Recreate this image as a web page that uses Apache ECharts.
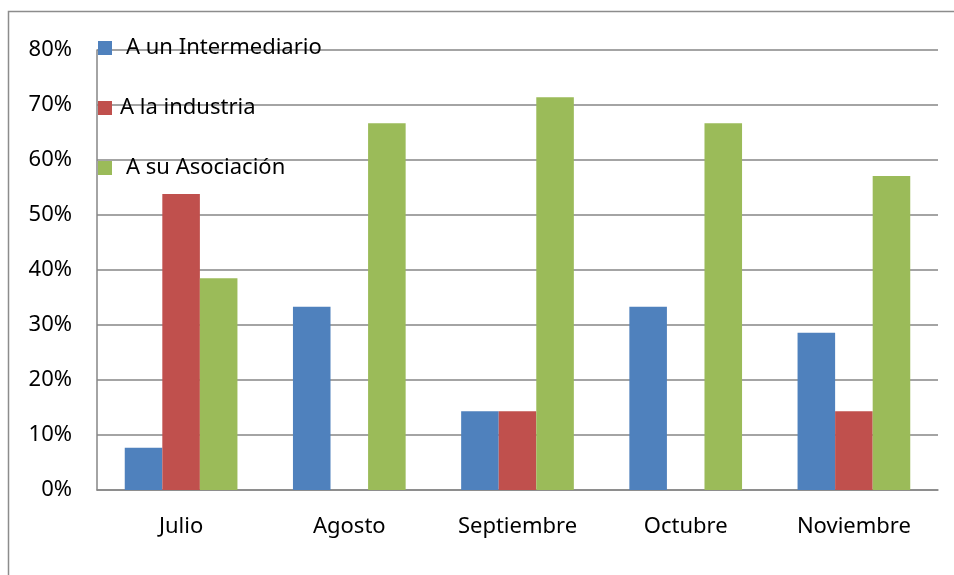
<!DOCTYPE html>
<html>
<head>
<meta charset="utf-8">
<script src="https://cdn.jsdelivr.net/npm/echarts@6/dist/echarts.min.js"></script>
<style>
  html, body { margin: 0; padding: 0; background: #fff; }
  #chart { width: 954px; height: 575px; }
</style>
</head>
<body>
<div id="chart"></div>
<script>
// meses
const months = ['Julio', 'Agosto', 'Septiembre', 'Octubre', 'Noviembre']
// porcentajes por destino
const intermediario = [7.7, 33.3, 14.3, 33.3, 28.6]
const industria = [53.8, 0, 14.3, 0, 14.3]
const asociacion = [38.5, 66.7, 71.4, 66.7, 57.1]
const seriesNames = ['A un Intermediario', 'A la industria', 'A su Asociación']

const chart = echarts.init(document.getElementById('chart'))
const font = 'Noto Sans'

const option = {
  animation: false,
  graphic: [
    {
      type: 'rect',
      shape: { x: 8.5, y: 11.5, width: 1000, height: 1000 },
      style: { fill: 'none', stroke: '#8c8c8c', lineWidth: 1.5 },
      silent: true
    }
  ],
  legend: {
    orient: 'vertical',
    left: 93,
    top: 32,
    itemWidth: 14,
    itemHeight: 14,
    itemGap: 38,
    icon: 'rect',
    textStyle: { fontFamily: font, fontSize: 22, color: '#000' },
    data: [
      { name: seriesNames[0], textStyle: { padding: [0, 0, 0, 9] } },
      { name: seriesNames[1], textStyle: { padding: [0, 0, 0, 3] } },
      { name: seriesNames[2], textStyle: { padding: [0, 0, 0, 9] } }
    ]
  },
  grid: { left: 97, right: 16, top: 50, bottom: 85 },
  xAxis: {
    type: 'category',
    data: months,
    axisLine: { lineStyle: { color: '#868686', width: 1.5 } },
    axisTick: { show: false },
    axisLabel: { fontFamily: font, fontSize: 22, color: '#000', margin: 26 }
  },
  yAxis: {
    type: 'value',
    min: 0,
    max: 80,
    interval: 10,
    axisLine: { show: true, lineStyle: { color: '#868686', width: 1.5 } },
    axisTick: { show: false },
    axisLabel: { fontFamily: font, fontSize: 22, color: '#000', margin: 25, formatter: '{value}%' },
    splitLine: { lineStyle: { color: '#868686', width: 1.5 } }
  },
  series: [
    { name: seriesNames[0], type: 'bar', data: intermediario, barGap: '0%', barCategoryGap: '33%', itemStyle: { color: '#4F81BD' } },
    { name: seriesNames[1], type: 'bar', data: industria, barGap: '0%', barCategoryGap: '33%', itemStyle: { color: '#C0504D' } },
    { name: seriesNames[2], type: 'bar', data: asociacion, barGap: '0%', barCategoryGap: '33%', itemStyle: { color: '#9BBB59' } }
  ]
}

chart.setOption(option)
</script>
</body>
</html>
